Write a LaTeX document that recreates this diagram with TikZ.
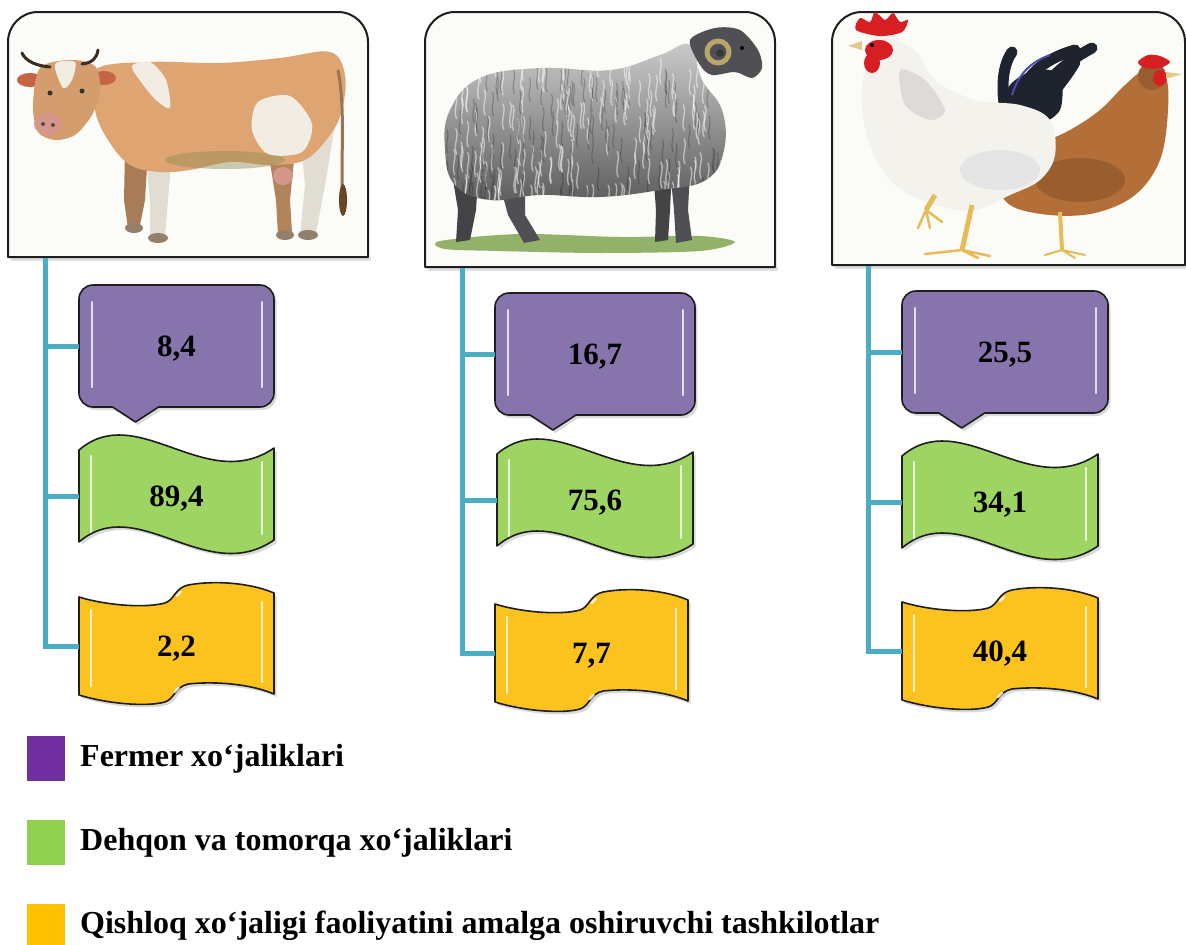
\documentclass[tikz,border=0pt]{standalone}
\usepackage{fontspec}
\setmainfont{Liberation Serif}
\definecolor{purpfill}{RGB}{136,116,172}
\definecolor{greenfill}{RGB}{158,213,98}
\definecolor{yellfill}{RGB}{252,194,30}
\definecolor{tealc}{RGB}{75,172,198}
\definecolor{legpurp}{RGB}{112,48,160}
\definecolor{leggreen}{RGB}{146,208,80}
\definecolor{legyell}{RGB}{255,192,0}
\definecolor{outl}{RGB}{30,30,30}
\definecolor{panelbg}{RGB}{251,251,248}
\definecolor{cowtan}{RGB}{222,165,115}
\definecolor{cowwhite}{RGB}{242,237,226}
\definecolor{cowear}{RGB}{200,100,70}
\definecolor{cowmuzzle}{RGB}{215,150,140}
\definecolor{hornc}{RGB}{60,45,35}
\definecolor{wool}{RGB}{168,170,168}
\definecolor{sheephead}{RGB}{80,80,84}
\definecolor{ramhorn}{RGB}{185,165,105}
\definecolor{grass}{RGB}{120,160,70}
\definecolor{henbrown}{RGB}{180,110,55}
\definecolor{combred}{RGB}{215,30,35}
\definecolor{beakc}{RGB}{225,200,140}
\definecolor{legyellow}{RGB}{228,188,90}
\definecolor{rwhite}{RGB}{244,242,236}
\definecolor{tailblack}{RGB}{30,35,45}
\tikzset{
  boxline/.style={draw=outl, line width=1.6pt, line join=round},
  boxshadow/.style={fill=black, opacity=0.15},
  gloss/.style={draw=white, line width=2.5pt, line cap=round, opacity=0.75},
  numtxt/.style={inner sep=0pt, text height=21pt, text depth=0pt, font=\fontsize{31}{31}\selectfont\bfseries, text=black},
  legtxt/.style={inner sep=0pt, anchor=base west, font=\fontsize{32}{32}\selectfont\bfseries},
  legsq/.style={inner sep=0pt, minimum width=38pt, minimum height=45pt, draw=none},
  conn/.style={draw=tealc, line width=5pt},
  panel/.style={draw=outl, line width=2pt, fill=panelbg, line join=round},
  feather/.style={draw=tailblack, line width=11pt, line cap=round},
}
\newcommand\callpath{(0,-47) .. controls (0,-54.7) and (6.3,-61) .. (14,-61) -- (\bw-14,-61) .. controls (\bw-6.3,-61) and (\bw,-54.7) .. (\bw,-47) -- (\bw,47) .. controls (\bw,54.7) and (\bw-6.3,61) .. (\bw-14,61) -- (0.29*\bw+23,61) -- (0.29*\bw,76) -- (0.29*\bw-23,61) -- (14,61) .. controls (6.3,61) and (0,54.7) .. (0,47) -- cycle}
\newcommand\wavepath{(0,-46) .. controls (0.3*\bw,-96) and (0.65*\bw,-1) .. (\bw,-48) -- (\bw,44) .. controls (0.65*\bw,91) and (0.3*\bw,-4) .. (0,46) -- cycle}
\newcommand\yellpath{(0,-49) .. controls (0.15*\bw,-40) and (0.35*\bw,-38) .. (0.44*\bw,-43) .. controls (0.49*\bw,-46) and (0.49*\bw,-58) .. (0.56*\bw,-61) .. controls (0.7*\bw,-66) and (0.88*\bw,-63) .. (\bw,-53) -- (\bw,48) .. controls (0.88*\bw,38) and (0.7*\bw,35) .. (0.56*\bw,38) .. controls (0.49*\bw,41) and (0.49*\bw,53) .. (0.44*\bw,56) .. controls (0.35*\bw,61) and (0.15*\bw,58) .. (0,49) -- cycle}
\newcommand\sheepbody{plot[smooth cycle, tension=.7] coordinates {(450,110) (480,78) (540,68) (610,70) (660,55) (690,45) (702,80) (722,110) (724,150) (706,180) (660,190) (600,197) (540,195) (490,200) (455,185) (445,150)}}
% #1 name, #2 left x, #3 centre y, #4 width, #5 text
\newcommand\CallBox[5]{%
  \begin{scope}[shift={(#2,#3)}]
    \pgfmathsetmacro\bw{#4}
    \begin{scope}[shift={(2.5,3)}]\fill[boxshadow] \callpath;\end{scope}
    \filldraw[boxline, fill=purpfill] \callpath;
    \draw[gloss] (13,-44) -- (13,41);
    \draw[gloss] (\bw-12,-44) -- (\bw-12,41);
  \end{scope}
  \node[numtxt, minimum width=#4] (#1) at (#2+#4/2,#3) {#5};}
\newcommand\WaveBox[5]{%
  \begin{scope}[shift={(#2,#3)}]
    \pgfmathsetmacro\bw{#4}
    \begin{scope}[shift={(2.5,3)}]\fill[boxshadow] \wavepath;\end{scope}
    \filldraw[boxline, fill=greenfill] \wavepath;
    \draw[gloss] (12,-40) -- (12,36);
    \draw[gloss] (\bw-12,-34) -- (\bw-12,38);
  \end{scope}
  \node[numtxt, minimum width=#4] (#1) at (#2+#4/2,#3) {#5};}
\newcommand\YellBox[5]{%
  \begin{scope}[shift={(#2,#3)}]
    \pgfmathsetmacro\bw{#4}
    \begin{scope}[shift={(2.5,3)}]\fill[boxshadow] \yellpath;\end{scope}
    \filldraw[boxline, fill=yellfill] \yellpath;
    \draw[gloss] (12,-36) -- (12,40);
    \draw[gloss] (\bw-12,-44) -- (\bw-12,36);
    \draw[gloss] (0.47*\bw+6,-50) -- (0.47*\bw+10,-54);
    \draw[gloss] (0.47*\bw+4,46) -- (0.47*\bw+8,42);
  \end{scope}
  \node[numtxt, minimum width=#4] (#1) at (#2+#4/2,#3) {#5};}
\begin{document}
\begin{tikzpicture}[x=1pt,y=-1pt]
\useasboundingbox (0,0) rectangle (1186,945);
\fill[white] (0,0) rectangle (1186,945);

% ================= panels =================
\fill[black,opacity=.12] (11,257) rectangle (371,261);
\filldraw[panel] (8,257) -- (8,42) .. controls (8,25.4) and (21.4,12) .. (38,12) -- (338,12) .. controls (354.6,12) and (368,25.4) .. (368,42) -- (368,257) -- cycle;
\fill[black,opacity=.12] (428,267) rectangle (778,271);
\filldraw[panel] (425,267) -- (425,42) .. controls (425,25.4) and (438.4,12) .. (455,12) -- (745,12) .. controls (761.6,12) and (775,25.4) .. (775,42) -- (775,267) -- cycle;
\fill[black,opacity=.12] (835,265) rectangle (1186,269);
\filldraw[panel] (832,265) -- (832,42) .. controls (832,25.4) and (845.4,12) .. (862,12) -- (1155,12) .. controls (1171.6,12) and (1185,25.4) .. (1185,42) -- (1185,265) -- cycle;

% ================= cow =================
\fill[cowtan!75!black] (125,150) -- (148,150) -- (145,200) -- (140,225) -- (128,228) -- (124,200) -- cycle;
\fill[cowtan!80!black] (268,150) -- (295,150) -- (290,200) -- (292,232) -- (278,235) -- (276,200) -- cycle;
\fill[cowwhite!85!gray] (145,150) -- (172,150) -- (168,200) -- (165,236) -- (150,238) -- (150,200) -- cycle;
\fill[cowwhite!85!gray] (300,130) -- (336,118) -- (326,180) -- (316,233) -- (300,235) -- (305,185) -- cycle;
\fill[gray!70!brown] (134,228) ellipse (9 and 5);
\fill[gray!70!brown] (158,238) ellipse (10 and 5);
\fill[gray!70!brown] (285,235) ellipse (9 and 5);
\fill[gray!70!brown] (308,235) ellipse (10 and 5);
\fill[cowtan] plot[smooth cycle, tension=0.6] coordinates {(95,70) (150,62) (220,63) (280,58) (330,52) (345,75) (342,110) (330,135) (305,160) (270,165) (230,162) (190,170) (160,172) (130,165) (108,140) (95,110)};
\fill[gray!60!olive, opacity=.45] (225,160) ellipse (60 and 9);
\fill[cowwhite] plot[smooth cycle] coordinates {(132,66) (150,62) (166,80) (170,108) (156,100) (141,82)};
\fill[cowwhite] plot[smooth cycle] coordinates {(258,102) (290,96) (312,124) (302,152) (268,154) (252,130)};
\fill[cowmuzzle] (283,176) ellipse (10 and 9);
\draw[cowtan!70!black, line width=3pt] (338,70) .. controls (346,110) and (340,160) .. (343,205);
\fill[brown!55!black] (343,200) ellipse (4 and 16);
\fill[cowear] (30,80) ellipse (13 and 7);
\fill[cowear] (104,78) ellipse (12 and 7);
\fill[cowtan!95!black] plot[smooth cycle] coordinates {(40,68) (70,60) (95,66) (100,90) (92,115) (75,135) (55,140) (38,132) (33,105)};
\fill[cowwhite] plot[smooth cycle] coordinates {(55,64) (75,62) (72,80) (63,88)};
\fill[cowmuzzle] (48,124) ellipse (14 and 11);
\fill[black!70] (43,124) circle (2);
\fill[black!70] (53,125) circle (2);
\fill[black!80] (50,93) circle (2.5);
\fill[black!80] (82,91) circle (2.5);
\draw[hornc, line width=3pt, line cap=round] (50,67) .. controls (38,66) and (26,62) .. (22,53);
\draw[hornc, line width=3pt, line cap=round] (82,64) .. controls (92,63) and (97,58) .. (98,50);

% ================= sheep =================
\fill[grass, opacity=.8] plot[smooth cycle] coordinates {(440,241) (520,234) (620,237) (700,236) (735,242) (700,251) (600,253) (500,251) (445,249)};
\fill[sheephead!85!black] (453,180) -- (478,180) -- (476,210) -- (470,240) -- (456,242) -- (458,210) -- cycle;
\fill[sheephead] (500,185) -- (525,185) -- (525,215) -- (540,240) -- (524,243) -- (508,215) -- cycle;
\fill[sheephead!85!black] (653,170) -- (672,170) -- (670,210) -- (668,240) -- (655,242) -- (656,210) -- cycle;
\fill[sheephead] (670,170) -- (690,170) -- (688,210) -- (692,240) -- (676,243) -- (674,210) -- cycle;
\shade[top color=wool!60!white, bottom color=wool!55!black] \sheepbody;
\begin{scope}
  \clip \sheepbody;
  \pgfmathsetseed{7}
  \foreach \i in {1,...,170} {
    \pgfmathsetmacro\sx{445+280*rnd}
    \pgfmathsetmacro\sy{50+140*rnd}
    \draw[white, opacity=.5, line width=1.3pt] (\sx,\sy) .. controls (\sx+4,\sy+8) and (\sx-3,\sy+16) .. (\sx+1,\sy+26);
  }
  \foreach \i in {1,...,120} {
    \pgfmathsetmacro\sx{445+280*rnd}
    \pgfmathsetmacro\sy{60+140*rnd}
    \draw[black, opacity=.22, line width=1.1pt] (\sx,\sy) .. controls (\sx+3,\sy+8) and (\sx-3,\sy+16) .. (\sx+1,\sy+24);
  }
\end{scope}
\fill[sheephead] plot[smooth cycle] coordinates {(690,40) (715,28) (740,30) (758,50) (762,68) (752,78) (735,72) (712,75) (700,65)};
\draw[ramhorn, line width=5pt] (718,52) circle (11);
\fill[sheephead!70!black] (720,53) circle (4);
\fill[black] (742,48) circle (2);

% ================= hen & rooster =================
\fill[henbrown] plot[smooth cycle, tension=.6] coordinates {(1125,85) (1145,70) (1165,75) (1168,110) (1160,160) (1135,195) (1095,213) (1050,215) (1010,205) (1000,180) (1030,150) (1070,130) (1100,110)};
\fill[henbrown!75!black, opacity=.6] (1080,180) ellipse (45 and 22);
\fill[henbrown!85!black] (1152,76) circle (14);
\fill[combred] plot[smooth cycle] coordinates {(1138,62) (1148,55) (1160,56) (1170,62) (1160,68) (1145,68)};
\fill[combred] (1160,78) ellipse (7 and 8);
\fill[beakc] (1166,72) -- (1182,74) -- (1166,79) -- cycle;
\draw[legyellow, line width=4pt] (1060,212) -- (1062,250);
\draw[legyellow, line width=2pt, line cap=round] (1062,250) -- (1045,255) (1062,250) -- (1085,255) (1062,250) -- (1075,258);
\fill[tailblack] plot[smooth cycle] coordinates {(1000,115) (1010,85) (1035,70) (1060,75) (1060,110) (1035,125)};
\draw[feather] (1005,110) .. controls (1000,80) and (1005,62) .. (1012,52);
\draw[feather] (1015,112) .. controls (1020,80) and (1040,60) .. (1075,50);
\draw[feather] (1025,115) .. controls (1040,85) and (1065,62) .. (1092,48);
\draw[feather] (1035,118) .. controls (1050,95) and (1065,80) .. (1075,62);
\draw[gray!60!blue, line width=2pt] (1012,95) .. controls (1018,75) and (1030,62) .. (1050,55);
\fill[rwhite] plot[smooth cycle, tension=.6] coordinates {(868,60) (890,42) (915,50) (935,80) (975,100) (1020,105) (1050,120) (1055,155) (1040,180) (1010,195) (975,210) (935,205) (895,185) (872,150) (862,105)};
\fill[gray!35, opacity=.7] plot[smooth cycle] coordinates {(900,70) (925,80) (945,110) (930,120) (905,105)};
\fill[gray!20] (1000,170) ellipse (40 and 20);
\fill[rwhite] (885,47) circle (16);
\fill[combred] plot[smooth cycle] coordinates {(856,30) (860,18) (870,22) (875,12) (885,20) (893,13) (900,22) (908,20) (902,32) (880,36)};
\fill[combred] (879,50) ellipse (14 and 10);
\fill[combred] (872,63) ellipse (8 and 10);
\fill[beakc] (862,41) -- (848,46) -- (862,50) -- cycle;
\fill[black] (872,45) circle (2);
\draw[legyellow, line width=5pt] (935,195) -- (926,210);
\draw[legyellow, line width=2.5pt, line cap=round] (926,210) -- (918,228) (926,210) -- (930,228) (926,210) -- (942,222);
\draw[legyellow, line width=5pt] (972,205) -- (962,250);
\draw[legyellow, line width=2.5pt, line cap=round] (962,250) -- (925,254) (962,250) -- (990,256) (962,250) -- (978,258);

% ================= boxes =================
\CallBox{c1a}{79}{346}{195}{8,4}
\WaveBox{c1b}{79}{496}{195}{89,4}
\YellBox{c1c}{79}{646}{195}{2,2}
\CallBox{c2a}{495}{354}{200}{16,7}
\WaveBox{c2b}{497}{500}{196}{75,6}
\YellBox{c2c}{495}{653}{193}{7,7}
\CallBox{c3a}{902}{352}{206}{25,5}
\WaveBox{c3b}{902}{502}{196}{34,1}
\YellBox{c3c}{902}{651}{196}{40,4}

% ================= connectors =================
\coordinate (s1) at (45,258);
\coordinate (s2) at (462,268);
\coordinate (s3) at (868,266);
\draw[conn] (s1) |- (c1c.west);
\draw[conn] (s1 |- c1a.west) -- (c1a.west);
\draw[conn] (s1 |- c1b.west) -- (c1b.west);
\draw[conn] (s2) |- (c2c.west);
\draw[conn] (s2 |- c2a.west) -- (c2a.west);
\draw[conn] (s2 |- c2b.west) -- (c2b.west);
\draw[conn] (s3) |- (c3c.west);
\draw[conn] (s3 |- c3a.west) -- (c3a.west);
\draw[conn] (s3 |- c3b.west) -- (c3b.west);

% ================= legend =================
\node[legsq, fill=legpurp] (lg1) at (46,758.5) {};
\node[legsq, fill=leggreen] (lg2) at (46,842.5) {};
\node[legsq, fill=legyell] (lg3) at (46,926.5) {};
\node[legtxt] (lt1) at (80,766) {Fermer xo‘jaliklari};
\node[legtxt] (lt2) at (80,850) {Dehqon va tomorqa xo‘jaliklari};
\node[legtxt] (lt3) at (80,933) {Qishloq xo‘jaligi faoliyatini amalga oshiruvchi tashkilotlar};
\end{tikzpicture}
\end{document}
